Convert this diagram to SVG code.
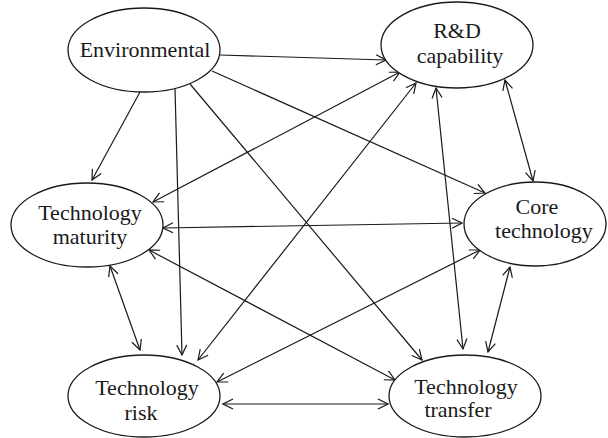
<svg xmlns="http://www.w3.org/2000/svg" width="608" height="438" viewBox="0 0 608 438">
<style>
.node ellipse{fill:#fff;stroke:#1a1a1a;stroke-width:1.3}
.node text{font-family:"Liberation Serif","Times New Roman",serif;font-size:22px;fill:#1a1a1a;text-anchor:middle}
#edges line{stroke:#1a1a1a;stroke-width:1.2;fill:none}
.one{marker-end:url(#arr)}
.two{marker-start:url(#arr);marker-end:url(#arr)}
</style>
<defs>
<marker id="arr" viewBox="0 0 12 12" refX="11" refY="6" markerWidth="12" markerHeight="12" markerUnits="userSpaceOnUse" orient="auto-start-reverse">
<path d="M1,1 L11,6 L1,11" fill="none" stroke="#1a1a1a" stroke-width="1.2"/>
</marker>
</defs>
<rect width="608" height="438" fill="#fff"/>
<g id="edges">
<line class="one" x1="220" y1="55" x2="386" y2="60"/>
<line class="one" x1="140" y1="92" x2="92" y2="180"/>
<line class="one" x1="175" y1="88" x2="182" y2="355"/>
<line class="one" x1="212" y1="71" x2="485" y2="193"/>
<line class="one" x1="190" y1="84" x2="422" y2="360"/>
<line class="two" x1="400" y1="72" x2="153" y2="202"/>
<line class="two" x1="416" y1="83" x2="198" y2="360"/>
<line class="two" x1="436" y1="88" x2="463" y2="349"/>
<line class="two" x1="505" y1="80" x2="533" y2="181"/>
<line class="two" x1="163" y1="228" x2="462" y2="223"/>
<line class="two" x1="149" y1="250" x2="395" y2="380"/>
<line class="two" x1="110" y1="266" x2="140" y2="350"/>
<line class="two" x1="480" y1="250" x2="217" y2="382"/>
<line class="two" x1="510" y1="267" x2="488" y2="352"/>
<line class="two" x1="223" y1="404" x2="388" y2="404"/>
</g>
<g id="environmental" class="node">
<ellipse cx="144" cy="50" rx="76" ry="42"/>
<text x="145" y="57">Environmental</text>
</g>
<g id="rd" class="node">
<ellipse cx="457" cy="45" rx="76" ry="43"/>
<text x="457" y="38">R&amp;D</text>
<text x="460" y="63">capability</text>
</g>
<g id="maturity" class="node">
<ellipse cx="87" cy="225" rx="76" ry="42"/>
<text x="90" y="220">Technology</text>
<text x="90" y="244">maturity</text>
</g>
<g id="core" class="node">
<ellipse cx="535" cy="224" rx="71" ry="42"/>
<text x="537" y="214">Core</text>
<text x="544" y="238">technology</text>
</g>
<g id="risk" class="node">
<ellipse cx="144" cy="396" rx="76" ry="41"/>
<text x="147" y="395">Technology</text>
<text x="141" y="420">risk</text>
</g>
<g id="transfer" class="node">
<ellipse cx="465" cy="396" rx="76" ry="41"/>
<text x="466" y="394">Technology</text>
<text x="458" y="417">transfer</text>
</g>
</svg>
